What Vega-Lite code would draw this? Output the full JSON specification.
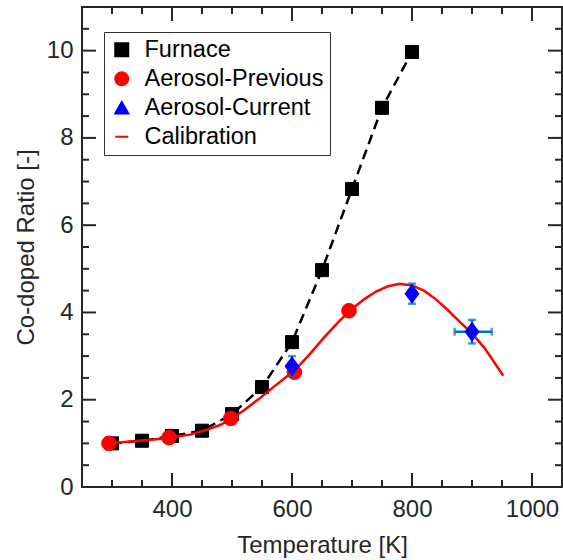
{
  "$schema": "https://vega.github.io/schema/vega-lite/v6.json",
  "width": 480,
  "height": 480,
  "autosize": {"type": "none"},
  "padding": {"left": 82, "top": 7, "right": 1, "bottom": 73},
  "background": "white",
  "config": {
    "view": {"stroke": "#262626", "strokeWidth": 2},
    "font": "Liberation Sans",
    "axis": {
      "domain": false, "grid": false,
      "labelFont": "Liberation Sans", "titleFont": "Liberation Sans",
      "labelColor": "#262626", "titleColor": "#262626",
      "labelFontSize": 24, "titleFontSize": 24, "titleFontWeight": "normal"
    },
    "legend": {
      "orient": "none", "legendX": 22, "legendY": 25,
      "labelFont": "Liberation Sans", "labelFontSize": 23.5, "labelColor": "#000000", "labelLimit": 0,
      "strokeColor": "#333333", "fillColor": "white", "padding": 6, "rowPadding": 4,
      "symbolSize": 170, "symbolStrokeWidth": 2, "labelOffset": 11
    }
  },
  "datasets": {
    "xmajor": [{"T": 400}, {"T": 600}, {"T": 800}, {"T": 1000}],
    "xminor": [{"T": 300}, {"T": 350}, {"T": 450}, {"T": 500}, {"T": 550}, {"T": 650}, {"T": 700}, {"T": 750}, {"T": 850}, {"T": 900}, {"T": 950}],
    "ymajor": [{"R": 0}, {"R": 2}, {"R": 4}, {"R": 6}, {"R": 8}, {"R": 10}],
    "yminor": [{"R": 0.5}, {"R": 1}, {"R": 1.5}, {"R": 2.5}, {"R": 3}, {"R": 3.5}, {"R": 4.5}, {"R": 5}, {"R": 5.5}, {"R": 6.5}, {"R": 7}, {"R": 7.5}, {"R": 8.5}, {"R": 9}, {"R": 9.5}, {"R": 10.5}],
    "furnace": [
      {"T": 300, "R": 1.0}, {"T": 350, "R": 1.06}, {"T": 400, "R": 1.17}, {"T": 450, "R": 1.29},
      {"T": 500, "R": 1.67}, {"T": 550, "R": 2.29}, {"T": 600, "R": 3.32}, {"T": 650, "R": 4.97},
      {"T": 700, "R": 6.83}, {"T": 750, "R": 8.69}, {"T": 800, "R": 9.97}
    ],
    "previous": [
      {"T": 295, "R": 1.0}, {"T": 395, "R": 1.13}, {"T": 498, "R": 1.57}, {"T": 604, "R": 2.63}, {"T": 695, "R": 4.04}
    ],
    "current": [
      {"T": 600, "R": 2.77, "Rlo": 2.54, "Rhi": 3.0, "Tlo": 594, "Thi": 606},
      {"T": 800, "R": 4.43, "Rlo": 4.2, "Rhi": 4.66, "Tlo": 794, "Thi": 806},
      {"T": 900, "R": 3.56, "Rlo": 3.29, "Rhi": 3.83, "Tlo": 871, "Thi": 933}
    ],
    "calib": [
      {"T": 295, "R": 1.0}, {"T": 330, "R": 1.04}, {"T": 370, "R": 1.09}, {"T": 400, "R": 1.14},
      {"T": 430, "R": 1.2}, {"T": 460, "R": 1.32}, {"T": 480, "R": 1.42}, {"T": 500, "R": 1.57},
      {"T": 520, "R": 1.76}, {"T": 545, "R": 2.02}, {"T": 570, "R": 2.3}, {"T": 605, "R": 2.68},
      {"T": 630, "R": 3.05}, {"T": 655, "R": 3.45}, {"T": 680, "R": 3.82}, {"T": 700, "R": 4.08},
      {"T": 720, "R": 4.3}, {"T": 740, "R": 4.48}, {"T": 760, "R": 4.6}, {"T": 780, "R": 4.66},
      {"T": 800, "R": 4.62}, {"T": 820, "R": 4.5}, {"T": 840, "R": 4.3}, {"T": 860, "R": 4.05},
      {"T": 880, "R": 3.78}, {"T": 900, "R": 3.52}, {"T": 920, "R": 3.2}, {"T": 935, "R": 2.9},
      {"T": 952, "R": 2.55}
    ]
  },
  "layer": [
    {
      "data": {"name": "furnace"},
      "mark": {"type": "line", "color": "#000000", "strokeWidth": 2.5, "strokeDash": [10, 6]},
      "encoding": {
        "x": {"field": "T", "type": "quantitative", "title": "Temperature [K]", "scale": {"domain": [250, 1050], "nice": false, "zero": false},
              "axis": {"orient": "bottom", "values": [400, 600, 800, 1000], "format": "d", "ticks": false, "labelPadding": 10, "title": "Temperature [K]", "titlePadding": 12}},
        "y": {"field": "R", "type": "quantitative", "title": "Co-doped Ratio [-]", "scale": {"domain": [0, 11], "nice": false, "zero": false},
              "axis": {"orient": "left", "values": [0, 2, 4, 6, 8, 10], "ticks": false, "labelPadding": 9, "title": "Co-doped Ratio [-]", "titlePadding": 8}}
      }
    },
    {
      "data": {"name": "xmajor"},
      "mark": {"type": "tick", "orient": "vertical", "size": 14, "thickness": 2, "color": "#262626", "opacity": 1, "yOffset": -7},
      "encoding": {"x": {"field": "T", "type": "quantitative", "title": "Temperature [K]"}, "y": {"datum": 0, "type": "quantitative", "title": "Co-doped Ratio [-]"}}
    },
    {
      "data": {"name": "xmajor"},
      "mark": {"type": "tick", "orient": "vertical", "size": 14, "thickness": 2, "color": "#262626", "opacity": 1, "yOffset": 7},
      "encoding": {"x": {"field": "T", "type": "quantitative", "title": "Temperature [K]"}, "y": {"datum": 11, "type": "quantitative", "title": "Co-doped Ratio [-]"}}
    },
    {
      "data": {"name": "xminor"},
      "mark": {"type": "tick", "orient": "vertical", "size": 7, "thickness": 2, "color": "#262626", "opacity": 1, "yOffset": -3.5},
      "encoding": {"x": {"field": "T", "type": "quantitative", "title": "Temperature [K]"}, "y": {"datum": 0, "type": "quantitative", "title": "Co-doped Ratio [-]"}}
    },
    {
      "data": {"name": "xminor"},
      "mark": {"type": "tick", "orient": "vertical", "size": 7, "thickness": 2, "color": "#262626", "opacity": 1, "yOffset": 3.5},
      "encoding": {"x": {"field": "T", "type": "quantitative", "title": "Temperature [K]"}, "y": {"datum": 11, "type": "quantitative", "title": "Co-doped Ratio [-]"}}
    },
    {
      "data": {"name": "ymajor"},
      "mark": {"type": "tick", "orient": "horizontal", "size": 14, "thickness": 2, "color": "#262626", "opacity": 1, "xOffset": 7},
      "encoding": {"y": {"field": "R", "type": "quantitative", "title": "Co-doped Ratio [-]"}, "x": {"datum": 250, "type": "quantitative", "title": "Temperature [K]"}}
    },
    {
      "data": {"name": "ymajor"},
      "mark": {"type": "tick", "orient": "horizontal", "size": 14, "thickness": 2, "color": "#262626", "opacity": 1, "xOffset": -7},
      "encoding": {"y": {"field": "R", "type": "quantitative", "title": "Co-doped Ratio [-]"}, "x": {"datum": 1050, "type": "quantitative", "title": "Temperature [K]"}}
    },
    {
      "data": {"name": "yminor"},
      "mark": {"type": "tick", "orient": "horizontal", "size": 7, "thickness": 2, "color": "#262626", "opacity": 1, "xOffset": 3.5},
      "encoding": {"y": {"field": "R", "type": "quantitative", "title": "Co-doped Ratio [-]"}, "x": {"datum": 250, "type": "quantitative", "title": "Temperature [K]"}}
    },
    {
      "data": {"name": "yminor"},
      "mark": {"type": "tick", "orient": "horizontal", "size": 7, "thickness": 2, "color": "#262626", "opacity": 1, "xOffset": -3.5},
      "encoding": {"y": {"field": "R", "type": "quantitative", "title": "Co-doped Ratio [-]"}, "x": {"datum": 1050, "type": "quantitative", "title": "Temperature [K]"}}
    },
    {
      "data": {"name": "furnace"},
      "mark": {"type": "point", "shape": "square", "size": 170, "strokeWidth": 1, "opacity": 1},
      "encoding": {
        "x": {"field": "T", "type": "quantitative", "title": "Temperature [K]"},
        "y": {"field": "R", "type": "quantitative", "title": "Co-doped Ratio [-]"},
        "shape": {"datum": "Furnace", "type": "nominal",
                  "scale": {"domain": ["Furnace", "Aerosol-Previous", "Aerosol-Current", "Calibration"], "range": ["square", "circle", "triangle-up", "stroke"]},
                  "legend": {"title": null}},
        "fill": {"datum": "Furnace", "type": "nominal",
                 "scale": {"domain": ["Furnace", "Aerosol-Previous", "Aerosol-Current", "Calibration"], "range": ["#000000", "#FF0000", "#0000FF", "#FF0000"]},
                 "legend": {"title": null}},
        "stroke": {"datum": "Furnace", "type": "nominal",
                   "scale": {"domain": ["Furnace", "Aerosol-Previous", "Aerosol-Current", "Calibration"], "range": ["#000000", "#FF0000", "#0000FF", "#FF0000"]},
                   "legend": {"title": null}}
      }
    },
    {
      "data": {"name": "calib"},
      "mark": {"type": "line", "color": "#FF0000", "strokeWidth": 2.5},
      "encoding": {
        "x": {"field": "T", "type": "quantitative", "title": "Temperature [K]"},
        "y": {"field": "R", "type": "quantitative", "title": "Co-doped Ratio [-]"}
      }
    },
    {
      "data": {"name": "previous"},
      "mark": {"type": "point", "shape": "circle", "size": 215, "strokeWidth": 1, "opacity": 1},
      "encoding": {
        "x": {"field": "T", "type": "quantitative", "title": "Temperature [K]"},
        "y": {"field": "R", "type": "quantitative", "title": "Co-doped Ratio [-]"},
        "shape": {"datum": "Aerosol-Previous", "type": "nominal", "legend": {"title": null}},
        "fill": {"datum": "Aerosol-Previous", "type": "nominal", "legend": {"title": null}},
        "stroke": {"datum": "Aerosol-Previous", "type": "nominal", "legend": {"title": null}}
      }
    },
    {
      "data": {"name": "current"},
      "mark": {"type": "errorbar", "ticks": true, "color": "#0072BD", "thickness": 2.5, "size": 8},
      "encoding": {
        "x": {"field": "T", "type": "quantitative", "title": "Temperature [K]"},
        "y": {"field": "Rlo", "type": "quantitative", "title": "Co-doped Ratio [-]"},
        "y2": {"field": "Rhi"}
      }
    },
    {
      "data": {"name": "current"},
      "mark": {"type": "errorbar", "ticks": true, "color": "#0072BD", "thickness": 2.5, "size": 8},
      "encoding": {
        "x": {"field": "Tlo", "type": "quantitative", "title": "Temperature [K]"},
        "x2": {"field": "Thi"},
        "y": {"field": "R", "type": "quantitative", "title": "Co-doped Ratio [-]"}
      }
    },
    {
      "data": {"name": "current"},
      "mark": {"type": "point", "shape": "M-0.75,0L0,-1L0.75,0L0,1Z", "size": 400, "filled": true, "color": "#0000FF", "opacity": 1},
      "encoding": {
        "x": {"field": "T", "type": "quantitative", "title": "Temperature [K]"},
        "y": {"field": "R", "type": "quantitative", "title": "Co-doped Ratio [-]"}
      }
    }
  ]
}
